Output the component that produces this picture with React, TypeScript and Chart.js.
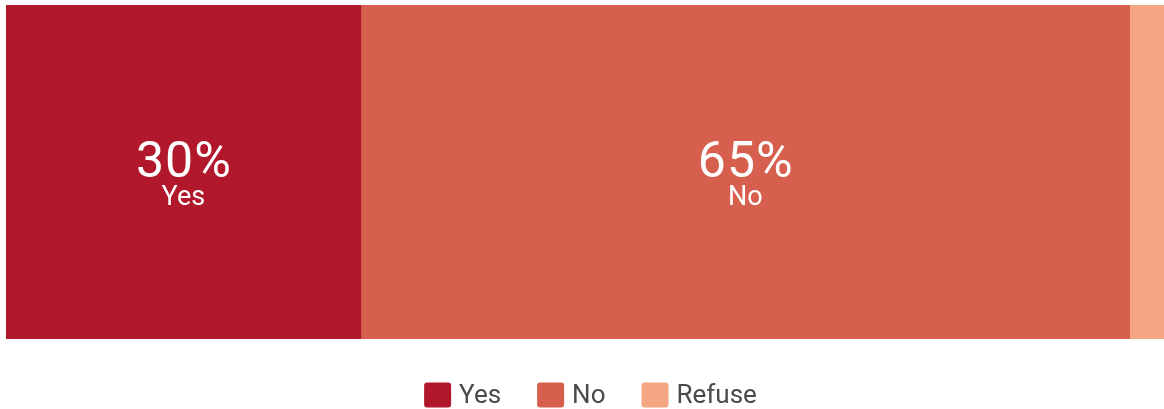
import React, { useEffect, useRef } from "react";
import { Chart, registerables } from "chart.js";

Chart.register(...registerables);

const categories = ["Response"];
const seriesNames = ["Yes", "No", "Refuse"];
const yesValues = [30];
const noValues = [65];
const refuseValues = [5];
const seriesColors = ["#B2182B", "#D6604D", "#F4A582"];
const X_MAX = 98.5;

const FONT = "Roboto, 'Liberation Sans', sans-serif";

const segmentLabels = {
  id: "segmentLabels",
  afterDatasetsDraw(chart: any) {
    const ctx = chart.ctx;
    ctx.save();
    chart.data.datasets.forEach((ds: any, i: number) => {
      const meta = chart.getDatasetMeta(i);
      meta.data.forEach((el: any, j: number) => {
        const { x, base, y } = el.getProps(["x", "base", "y"], true);
        const w = Math.abs(x - base);
        if (w < 100) return;
        const cx = (x + base) / 2;
        ctx.fillStyle = "#ffffff";
        ctx.textAlign = "center";
        ctx.textBaseline = "alphabetic";
        ctx.font = `50px ${FONT}`;
        (ctx as any).letterSpacing = "1px";
        ctx.fillText(`${ds.data[j]}%`, cx + 0.5, y + 5);
        (ctx as any).letterSpacing = "0px";
        ctx.font = `27px ${FONT}`;
        ctx.fillText(ds.label, cx, y + 33);
      });
    });
    ctx.restore();
  },
};

const customLegend = {
  id: "customLegend",
  afterDraw(chart: any) {
    const ctx = chart.ctx;
    const area = chart.chartArea;
    const boxW = 27;
    const boxH = 25;
    const gap = 8;
    const spacing = 36;
    ctx.save();
    ctx.font = `26px ${FONT}`;
    const items = chart.data.datasets.map((ds: any) => ({
      text: ds.label,
      color: ds.backgroundColor,
      w: boxW + gap + ctx.measureText(ds.label).width,
    }));
    const total = items.reduce((s: number, it: any) => s + it.w, 0) + spacing * (items.length - 1);
    let x = (area.left + area.right) / 2 - total / 2 + 2;
    const cy = area.bottom + 56;
    items.forEach((it: any) => {
      ctx.fillStyle = it.color;
      ctx.beginPath();
      (ctx as any).roundRect(x, cy - boxH / 2, boxW, boxH, 3);
      ctx.fill();
      ctx.fillStyle = "#4a4a4a";
      ctx.textAlign = "left";
      ctx.textBaseline = "middle";
      ctx.fillText(it.text, x + boxW + gap, cy + 1);
      x += it.w + spacing;
    });
    ctx.restore();
  },
};

export default function App() {
  const ref = useRef<HTMLCanvasElement>(null);
  useEffect(() => {
    document.body.style.margin = "0";
    document.body.style.overflow = "hidden";
    const valueSets = [yesValues, noValues, refuseValues];
    const chart = new Chart(ref.current as HTMLCanvasElement, {
      type: "bar",
      data: {
        labels: categories,
        datasets: seriesNames.map((name, i) => ({
          label: name,
          data: valueSets[i],
          backgroundColor: seriesColors[i],
          borderWidth: 0,
          borderRadius: 3,
          borderSkipped: false,
          categoryPercentage: 1,
          barPercentage: 1,
        })),
      },
      options: {
        indexAxis: "y",
        animation: false,
        responsive: true,
        maintainAspectRatio: false,
        layout: { padding: { left: 6, right: 6, top: 5, bottom: 70 } },
        scales: {
          x: { stacked: true, min: 0, max: X_MAX, display: false },
          y: { stacked: true, display: false },
        },
        plugins: {
          legend: { display: false },
          tooltip: { enabled: false },
        },
      },
      plugins: [segmentLabels, customLegend],
    });
    return () => chart.destroy();
  }, []);
  return (
    <div style={{ width: 1177, height: 409, position: "relative" }}>
      <canvas ref={ref} />
    </div>
  );
}
